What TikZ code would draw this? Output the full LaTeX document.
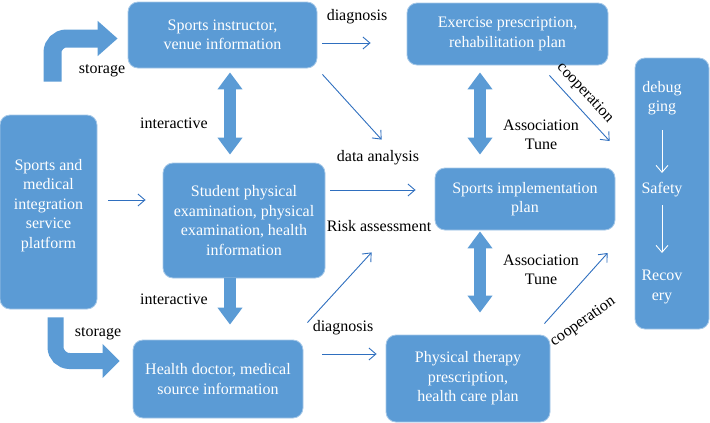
\documentclass[tikz,border=0pt]{standalone}
\usepackage{fontspec}
\setmainfont{Liberation Serif}
\usetikzlibrary{arrows.meta,calc}
\definecolor{boxblue}{HTML}{5B9BD5}
\definecolor{linkblue}{HTML}{2F6FBF}

\begin{document}
\begin{tikzpicture}[x=1pt,y=-1pt,
    box/.style={fill=boxblue,draw=boxblue!55!white,line width=0.8pt,rounded corners=10pt,inner sep=0pt},
    boxtext/.style={text=white,align=center,font=\fontsize{16}{19.5}\selectfont,inner sep=0pt},
    lbl/.style={text=black,align=center,font=\fontsize{16}{19.5}\selectfont,inner sep=0pt},
    thinarr/.style={draw=linkblue,line width=0.9pt,-{Straight Barb[length=7pt,width=12pt]}},
    whitearr/.style={draw=white,line width=0.9pt,-{Straight Barb[length=7pt,width=12pt]}},
    fatarr/.style={draw=boxblue,line width=12pt},
    fathead/.tip={Triangle[length=17pt,width=24pt]},
    ]
    \useasboundingbox (0,0) rectangle (710,423);

    \node[box,minimum width=97pt,minimum height=194pt] (plat) at (48.5,212) {};
    \node[boxtext] (platText) at ($(plat.center)+(0,-6.5)$) {Sports and\\medical\\integration\\service\\platform};
    \node[box,boxtext,minimum width=189pt,minimum height=66pt] (ins) at (222.5,35) {Sports instructor,\\venue information};
    \node[box,boxtext,minimum width=162pt,minimum height=115pt] (stu) at (244,220.5) {Student physical\\examination, physical\\examination, health\\information};
    \node[box,boxtext,minimum width=170pt,minimum height=78pt] (doc) at (218,379) {Health doctor, medical\\source information};
    \node[box,boxtext,minimum width=201pt,minimum height=62pt] (exe) at (507.5,34) {Exercise prescription,\\rehabilitation plan};
    \node[box,boxtext,minimum width=180pt,minimum height=62pt] (imp) at (525,199) {Sports implementation\\plan};
    \node[box,boxtext,minimum width=164pt,minimum height=87pt] (phy) at (468,378.5) {Physical therapy\\prescription,\\health care plan};
    \node[box,minimum width=74pt,minimum height=271pt] (dbg) at (672,193.5) {};
    \node[boxtext] (dbgA) at (662,98) {debug\\ging};
    \node[boxtext] (dbgB) at (662,190) {Safety};
    \node[boxtext] (dbgC) at (662,287) {Recov\\ery};
    \draw[whitearr] ($(dbgA.center)+(0,32)$) -- ($(dbgB.center)+(0,-17)$);
    \draw[whitearr] ($(dbgB.center)+(0,15)$) -- ($(dbgC.center)+(0,-34)$);

    \draw[fatarr,line width=18pt,rounded corners=14pt,-{Triangle[length=20pt,width=34pt]}] ($(plat.north)+(4,-33)$) |- ($(ins.west)+(-10,3.5)$);
    \draw[fatarr,line width=16pt,rounded corners=14pt,-{Triangle[length=17pt,width=33pt]}] ($(plat.south)+(7,8)$) |- ($(doc.west)+(-13,-18)$);
    \draw[fatarr,fathead-fathead] ($(ins.south)+(7.5,4)$) -- ($(stu.north)+(-14,-8)$);
    \draw[fatarr,-fathead] ($(stu.south)+(-14,0)$) -- ($(doc.north)+(12,-15)$);
    \draw[fatarr,fathead-fathead] ($(exe.south)+(-27.5,7)$) -- ($(imp.north)+(-45,-13)$);
    \draw[fatarr,fathead-fathead] ($(imp.south)+(-45,1)$) -- ($(phy.north)+(12,-22)$);

    \draw[thinarr] ($(ins.east)+(5,8)$) -- ($(exe.west)+(-36,9)$);
    \draw[thinarr] ($(ins.south east)+(5,6)$) -- ($(imp.north west)+(-53,-28)$);
    \draw[thinarr] ($(plat.east)+(11,-12)$) -- ($(stu.west)+(-17,-20.5)$);
    \draw[thinarr] ($(stu.east)+(5,-30.5)$) -- ($(imp.west)+(-19,-9)$);
    \draw[thinarr] ($(doc.north east)+(4,-17)$) -- ($(imp.south west)+(-63,22)$);
    \draw[thinarr] ($(doc.east)+(19,-25)$) -- ($(phy.west)+(-9,-24.5)$);
    \draw[thinarr] ($(exe.south east)+(-59,10)$) -- ($(dbg.west)+(-25,-52.5)$);
    \draw[thinarr] ($(phy.north east)+(-6,-11)$) -- ($(dbg.west)+(-27,59.5)$);

    \node[lbl] (stoTop) at (102,71) {storage};
    \node[lbl] (intTop) at (174,123) {interactive};
    \node[lbl] (intBot) at (174,299) {interactive};
    \node[lbl] (stoBot) at (98,334) {storage};
    \node[lbl] (diagTop) at (357,17) {diagnosis};
    \node[lbl] (anaLbl) at (378,158) {data analysis};
    \node[lbl] (riskLbl) at (379,226) {Risk assessment};
    \node[lbl] (diagBot) at (343,328) {diagnosis};
    \node[lbl] (assTop) at (541,135) {Association\\Tune};
    \node[lbl] (assBot) at (541,270) {Association\\Tune};
    \node[lbl,rotate=-47] (coopTop) at (585,93) {cooperation};
    \node[lbl,rotate=35] (coopBot) at (583,322) {cooperation};
\end{tikzpicture}
\end{document}
